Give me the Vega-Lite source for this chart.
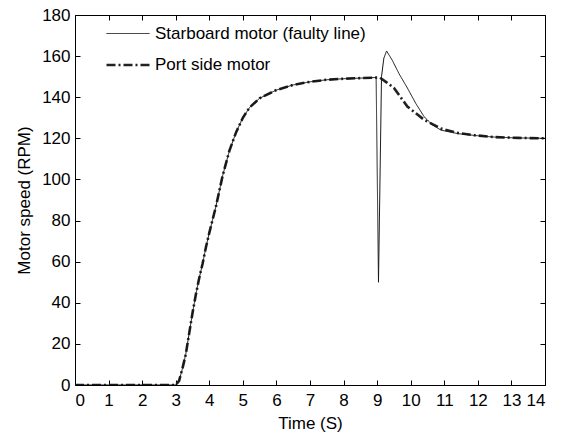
{
  "$schema": "https://vega.github.io/schema/vega-lite/v6.json",
  "autosize": "none",
  "width": 470,
  "height": 370,
  "padding": {"left": 75, "top": 15, "right": 18, "bottom": 47},
  "background": "white",
  "config": {
    "font": "Liberation Sans",
    "view": {"stroke": "black", "strokeWidth": 1},
    "axis": {"grid": false, "domain": false, "tickColor": "black", "tickSize": -5, "labelColor": "black", "titleColor": "black", "labelFontSize": 17, "titleFontSize": 17, "titleFontWeight": "normal", "labelFont": "Liberation Sans", "titleFont": "Liberation Sans"}
  },
  "data": {
    "values": [
      {"motor": "Port side motor", "t": 0, "rpm": 0},
      {"motor": "Port side motor", "t": 3.0, "rpm": 0},
      {"motor": "Port side motor", "t": 3.1, "rpm": 2},
      {"motor": "Port side motor", "t": 3.2, "rpm": 8},
      {"motor": "Port side motor", "t": 3.3, "rpm": 15},
      {"motor": "Port side motor", "t": 3.4, "rpm": 25},
      {"motor": "Port side motor", "t": 3.5, "rpm": 35},
      {"motor": "Port side motor", "t": 3.6, "rpm": 44},
      {"motor": "Port side motor", "t": 3.7, "rpm": 52},
      {"motor": "Port side motor", "t": 3.8, "rpm": 59},
      {"motor": "Port side motor", "t": 3.9, "rpm": 67},
      {"motor": "Port side motor", "t": 4.0, "rpm": 74},
      {"motor": "Port side motor", "t": 4.2, "rpm": 87},
      {"motor": "Port side motor", "t": 4.4, "rpm": 102},
      {"motor": "Port side motor", "t": 4.6, "rpm": 114},
      {"motor": "Port side motor", "t": 4.8, "rpm": 123},
      {"motor": "Port side motor", "t": 5.0, "rpm": 130},
      {"motor": "Port side motor", "t": 5.2, "rpm": 135},
      {"motor": "Port side motor", "t": 5.5, "rpm": 139.5},
      {"motor": "Port side motor", "t": 6.0, "rpm": 143.5},
      {"motor": "Port side motor", "t": 6.5, "rpm": 146},
      {"motor": "Port side motor", "t": 7.0, "rpm": 147.5},
      {"motor": "Port side motor", "t": 7.5, "rpm": 148.5},
      {"motor": "Port side motor", "t": 8.0, "rpm": 149},
      {"motor": "Port side motor", "t": 8.5, "rpm": 149.3},
      {"motor": "Port side motor", "t": 9.08, "rpm": 149.6},
      {"motor": "Port side motor", "t": 9.3, "rpm": 147},
      {"motor": "Port side motor", "t": 9.5, "rpm": 144.5},
      {"motor": "Port side motor", "t": 9.9, "rpm": 135.5},
      {"motor": "Port side motor", "t": 10.4, "rpm": 129},
      {"motor": "Port side motor", "t": 10.9, "rpm": 124.8},
      {"motor": "Port side motor", "t": 11.4, "rpm": 122.6},
      {"motor": "Port side motor", "t": 11.9, "rpm": 121.5},
      {"motor": "Port side motor", "t": 12.5, "rpm": 120.6},
      {"motor": "Port side motor", "t": 13.2, "rpm": 120.2},
      {"motor": "Port side motor", "t": 14, "rpm": 120},
      {"motor": "Starboard motor (faulty line)", "t": 0, "rpm": 0},
      {"motor": "Starboard motor (faulty line)", "t": 3.0, "rpm": 0},
      {"motor": "Starboard motor (faulty line)", "t": 3.1, "rpm": 2},
      {"motor": "Starboard motor (faulty line)", "t": 3.2, "rpm": 8},
      {"motor": "Starboard motor (faulty line)", "t": 3.3, "rpm": 15},
      {"motor": "Starboard motor (faulty line)", "t": 3.4, "rpm": 25},
      {"motor": "Starboard motor (faulty line)", "t": 3.5, "rpm": 35},
      {"motor": "Starboard motor (faulty line)", "t": 3.6, "rpm": 44},
      {"motor": "Starboard motor (faulty line)", "t": 3.7, "rpm": 52},
      {"motor": "Starboard motor (faulty line)", "t": 3.8, "rpm": 59},
      {"motor": "Starboard motor (faulty line)", "t": 3.9, "rpm": 67},
      {"motor": "Starboard motor (faulty line)", "t": 4.0, "rpm": 74},
      {"motor": "Starboard motor (faulty line)", "t": 4.2, "rpm": 87},
      {"motor": "Starboard motor (faulty line)", "t": 4.4, "rpm": 102},
      {"motor": "Starboard motor (faulty line)", "t": 4.6, "rpm": 114},
      {"motor": "Starboard motor (faulty line)", "t": 4.8, "rpm": 123},
      {"motor": "Starboard motor (faulty line)", "t": 5.0, "rpm": 130},
      {"motor": "Starboard motor (faulty line)", "t": 5.2, "rpm": 135},
      {"motor": "Starboard motor (faulty line)", "t": 5.5, "rpm": 139.5},
      {"motor": "Starboard motor (faulty line)", "t": 6.0, "rpm": 143.5},
      {"motor": "Starboard motor (faulty line)", "t": 6.5, "rpm": 146},
      {"motor": "Starboard motor (faulty line)", "t": 7.0, "rpm": 147.5},
      {"motor": "Starboard motor (faulty line)", "t": 7.5, "rpm": 148.5},
      {"motor": "Starboard motor (faulty line)", "t": 8.0, "rpm": 149},
      {"motor": "Starboard motor (faulty line)", "t": 8.5, "rpm": 149.3},
      {"motor": "Starboard motor (faulty line)", "t": 8.97, "rpm": 149.6},
      {"motor": "Starboard motor (faulty line)", "t": 9.04, "rpm": 50},
      {"motor": "Starboard motor (faulty line)", "t": 9.13, "rpm": 150},
      {"motor": "Starboard motor (faulty line)", "t": 9.2, "rpm": 159},
      {"motor": "Starboard motor (faulty line)", "t": 9.28, "rpm": 162.5},
      {"motor": "Starboard motor (faulty line)", "t": 9.45, "rpm": 158},
      {"motor": "Starboard motor (faulty line)", "t": 9.65, "rpm": 151.5},
      {"motor": "Starboard motor (faulty line)", "t": 9.9, "rpm": 144.5},
      {"motor": "Starboard motor (faulty line)", "t": 10.15, "rpm": 137},
      {"motor": "Starboard motor (faulty line)", "t": 10.4, "rpm": 130.5},
      {"motor": "Starboard motor (faulty line)", "t": 10.65, "rpm": 126.5},
      {"motor": "Starboard motor (faulty line)", "t": 10.9, "rpm": 124},
      {"motor": "Starboard motor (faulty line)", "t": 11.4, "rpm": 122.3},
      {"motor": "Starboard motor (faulty line)", "t": 11.9, "rpm": 121.4},
      {"motor": "Starboard motor (faulty line)", "t": 12.5, "rpm": 120.6},
      {"motor": "Starboard motor (faulty line)", "t": 13.2, "rpm": 120.2},
      {"motor": "Starboard motor (faulty line)", "t": 14, "rpm": 120}
    ]
  },
  "layer": [
    {
      "mark": {"type": "line", "clip": true},
      "encoding": {
        "x": {"field": "t", "type": "quantitative", "scale": {"domain": [0, 14], "nice": false}, "axis": {"values": [0,1,2,3,4,5,6,7,8,9,10,11,12,13,14], "title": "Time (S)", "labelPadding": 12, "titlePadding": 7}},
        "y": {"field": "rpm", "type": "quantitative", "scale": {"domain": [0, 180], "nice": false}, "axis": {"values": [0,20,40,60,80,100,120,140,160,180], "title": "Motor speed (RPM)", "labelPadding": 10, "titlePadding": 8}},
        "order": {"field": "t", "type": "quantitative"},
        "color": {"field": "motor", "type": "nominal", "scale": {"domain": ["Starboard motor (faulty line)", "Port side motor"], "range": ["#111111", "#222222"]},
          "legend": {"title": null, "orient": "none", "legendX": 30, "legendY": -4, "symbolType": "stroke", "symbolSize": 1850, "labelFontSize": 17, "labelFont": "Liberation Sans", "labelColor": "black", "labelLimit": 400, "rowPadding": -5, "labelOffset": 4}},
        "strokeDash": {"field": "motor", "type": "nominal", "scale": {"domain": ["Starboard motor (faulty line)", "Port side motor"], "range": [[1, 0], [9, 3, 2, 3]]}},
        "strokeWidth": {"field": "motor", "type": "nominal", "scale": {"domain": ["Starboard motor (faulty line)", "Port side motor"], "range": [1, 2.6]}}
      }
    },
    {
      "mark": {"type": "line", "opacity": 0},
      "encoding": {
        "x": {"field": "t", "type": "quantitative", "scale": {"domain": [0, 14], "nice": false}, "axis": {"orient": "top", "values": [0,1,2,3,4,5,6,7,8,9,10,11,12,13,14], "labels": false, "title": null}},
        "y": {"field": "rpm", "type": "quantitative", "scale": {"domain": [0, 180], "nice": false}, "axis": {"orient": "right", "values": [0,20,40,60,80,100,120,140,160,180], "labels": false, "title": null}}
      }
    }
  ],
  "resolve": {"axis": {"x": "independent", "y": "independent"}}
}
